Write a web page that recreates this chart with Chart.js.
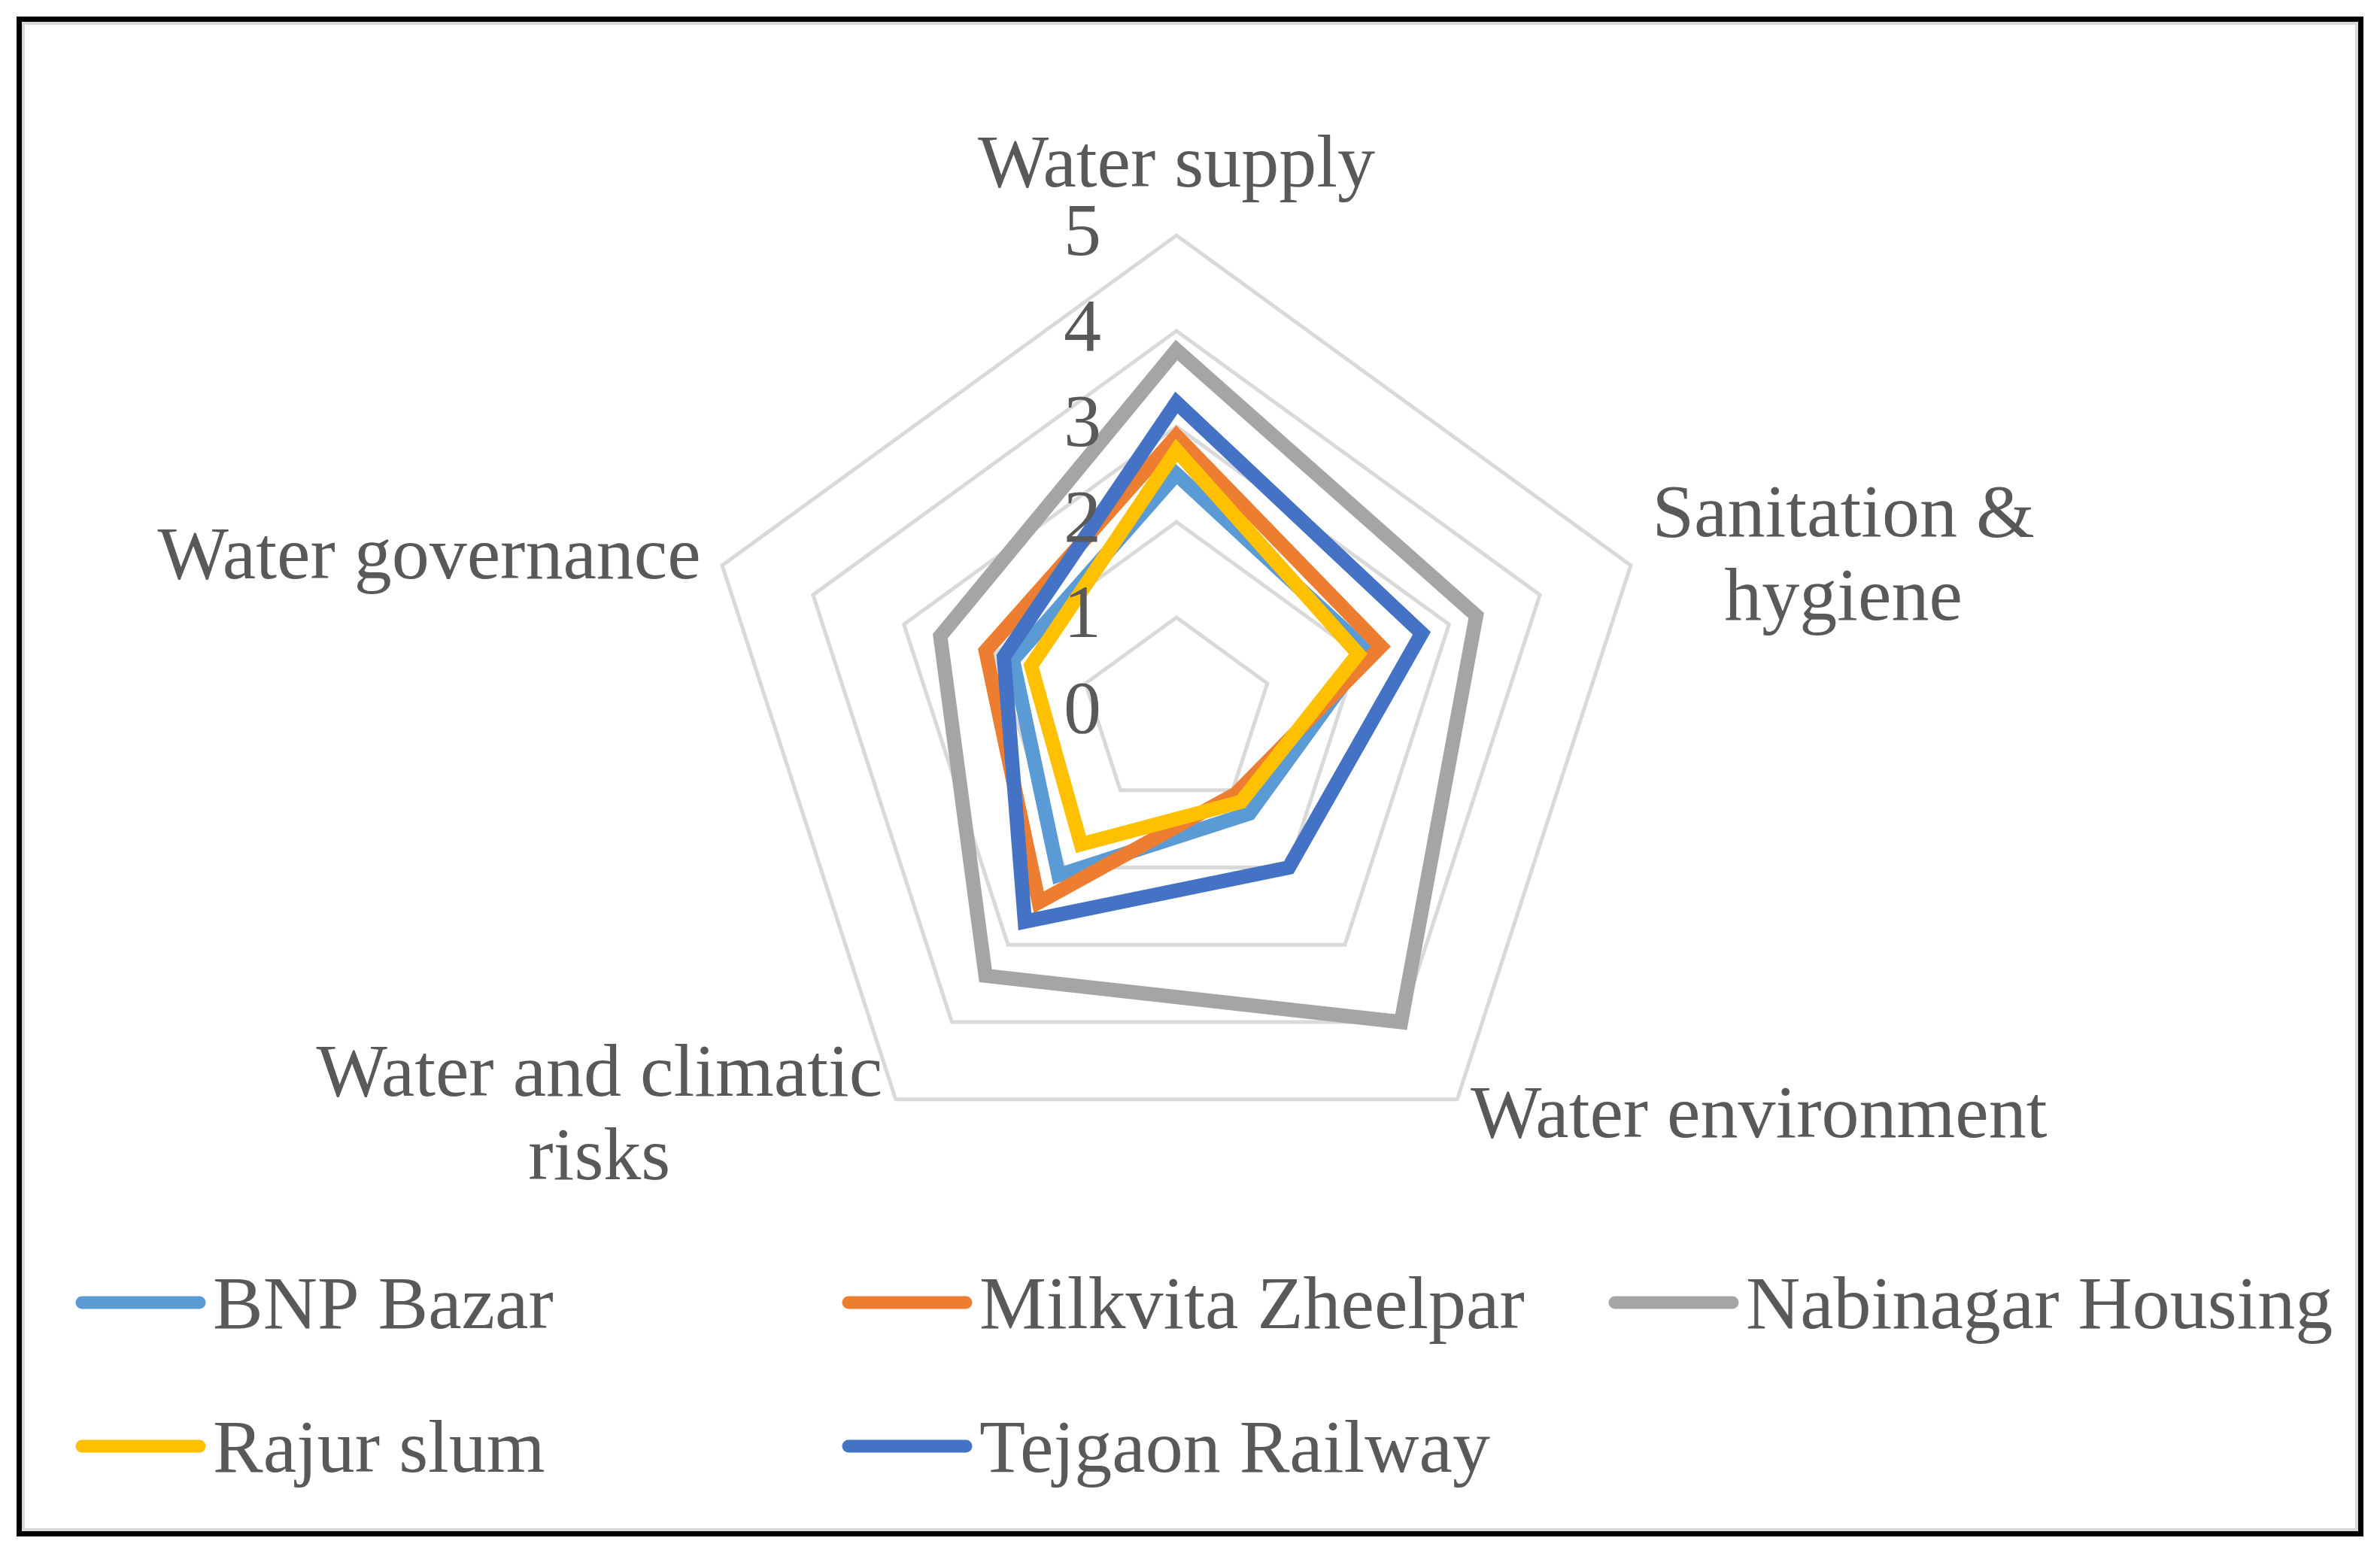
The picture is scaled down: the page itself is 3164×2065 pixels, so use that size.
<!DOCTYPE html>
<html>
<head>
<meta charset="utf-8">
<script src="https://cdn.jsdelivr.net/npm/chart.js@4.4.1/dist/chart.umd.min.js"></script>
<style>
html, body { margin: 0; padding: 0; background: #fff; }
body { width: 3164px; height: 2065px; position: relative; overflow: hidden; font-family: "Liberation Serif", serif; }
#frame { position: absolute; left: 22px; top: 22px; width: 3106px; height: 2007px; border: 7px solid #000; }
#inner { position: absolute; left: 0; top: 0; right: 0; bottom: 0; border: 4px solid #d9d9d9; }
#chart { position: absolute; left: 0; top: 0; }
</style>
</head>
<body>
<div id="frame"><div id="inner"></div></div>
<canvas id="chart" width="3164" height="2065"></canvas>
<script>
const categories = ['Water supply', ['Sanitation &', 'hygiene'], 'Water environment', ['Water and climatic', 'risks'], 'Water governance'];
const seriesNames = ['BNP Bazar', 'Milkvita Zheelpar', 'Nabinagar Housing', 'Rajur slum', 'Tejgaon Railway'];
const bnpBazar = [2.5, 2.1, 1.3, 2.1, 1.8];
const milkvitaZheelpar = [2.9, 2.25, 1.05, 2.45, 2.1];
const nabinagarHousing = [3.8, 3.3, 4.0, 3.4, 2.6];
const rajurSlum = [2.75, 2.0, 1.15, 1.7, 1.6];
const tejgaonRailway = [3.25, 2.7, 2.0, 2.7, 1.9];
const tickLabels = ['0', '1', '2', '3', '4', '5'];
const seriesColors = ['#5B9BD5', '#ED7D31', '#A5A5A5', '#FFC000', '#4472C4'];

const seriesValues = [bnpBazar, milkvitaZheelpar, nabinagarHousing, rajurSlum, tejgaonRailway];
const FONT = '100px "Liberation Serif"';
const TEXT = '#595959';
const LINE_W = 19;

// legend grid, Excel style
const legendCols = [101, 1120, 2139];
const legendRows = [1740, 1931];

const excelText = {
    id: 'excelText',
    afterDatasetsDraw(chart) {
        const ctx = chart.ctx;
        const scale = chart.scales.r;
        ctx.save();
        ctx.font = FONT;
        ctx.fillStyle = TEXT;

        // tick labels, left of the vertical axis
        ctx.textAlign = 'right';
        ctx.textBaseline = 'middle';
        scale.ticks.forEach(function(t) {
            const y = scale.yCenter - scale.getDistanceFromCenterForValue(t.value);
            ctx.fillText(t.label, scale.xCenter - 100, y);
        });

        // category labels
        const lh = 111;
        chart.data.labels.forEach(function(label, i) {
            const lines = Array.isArray(label) ? label : [label];
            const p = scale.getPointPosition(i, scale.drawingArea + 30);
            const widths = lines.map(l => ctx.measureText(l).width);
            const w = Math.max.apply(null, widths);
            let cx, cy;
            if (Math.abs(p.x - scale.xCenter) < 2) {
                cx = p.x;
                cy = p.y - 61 - (lines.length - 1) * lh / 2;
            } else if (p.x > scale.xCenter) {
                cx = p.x + w / 2;
                cy = p.y;
            } else {
                cx = p.x - w / 2;
                cy = p.y;
            }
            ctx.textAlign = 'center';
            lines.forEach(function(l, k) {
                ctx.fillText(l, cx, cy + (k - (lines.length - 1) / 2) * lh);
            });
        });

        // legend
        ctx.textAlign = 'left';
        ctx.lineCap = 'round';
        ctx.lineWidth = LINE_W - 2;
        chart.data.datasets.forEach(function(ds, i) {
            const x = legendCols[i % 3];
            const y = legendRows[Math.floor(i / 3)];
            ctx.strokeStyle = ds.borderColor;
            ctx.beginPath();
            ctx.moveTo(x + 8, y - 8);
            ctx.lineTo(x + 164, y - 8);
            ctx.stroke();
            ctx.fillText(ds.label, x + 182, y);
        });
        ctx.restore();
    }
};

function drawChart() {
    const ctx = document.getElementById('chart').getContext('2d');
    new Chart(ctx, {
        type: 'radar',
        data: {
            labels: categories,
            datasets: seriesNames.map(function(name, i) {
                return {
                    label: name,
                    data: seriesValues[i],
                    borderColor: seriesColors[i],
                    backgroundColor: seriesColors[i],
                    borderWidth: LINE_W,
                    fill: false,
                    pointRadius: 0,
                    pointHoverRadius: 0,
                    tension: 0,
                    order: seriesNames.length - i
                };
            })
        },
        options: {
            responsive: false,
            animation: false,
            devicePixelRatio: 1,
            layout: { padding: { left: 929, right: 965, top: 313, bottom: 482 } },
            plugins: {
                legend: { display: false },
                tooltip: { enabled: false }
            },
            scales: {
                r: {
                    min: 0,
                    max: 5,
                    ticks: {
                        display: false,
                        stepSize: 1,
                        callback: (v, i) => tickLabels[i]
                    },
                    pointLabels: { display: false },
                    angleLines: { display: false },
                    grid: { color: '#D9D9D9', lineWidth: 5 }
                }
            }
        },
        plugins: [excelText]
    });
}

document.fonts.load(FONT).then(drawChart, drawChart);
</script>
</body>
</html>
